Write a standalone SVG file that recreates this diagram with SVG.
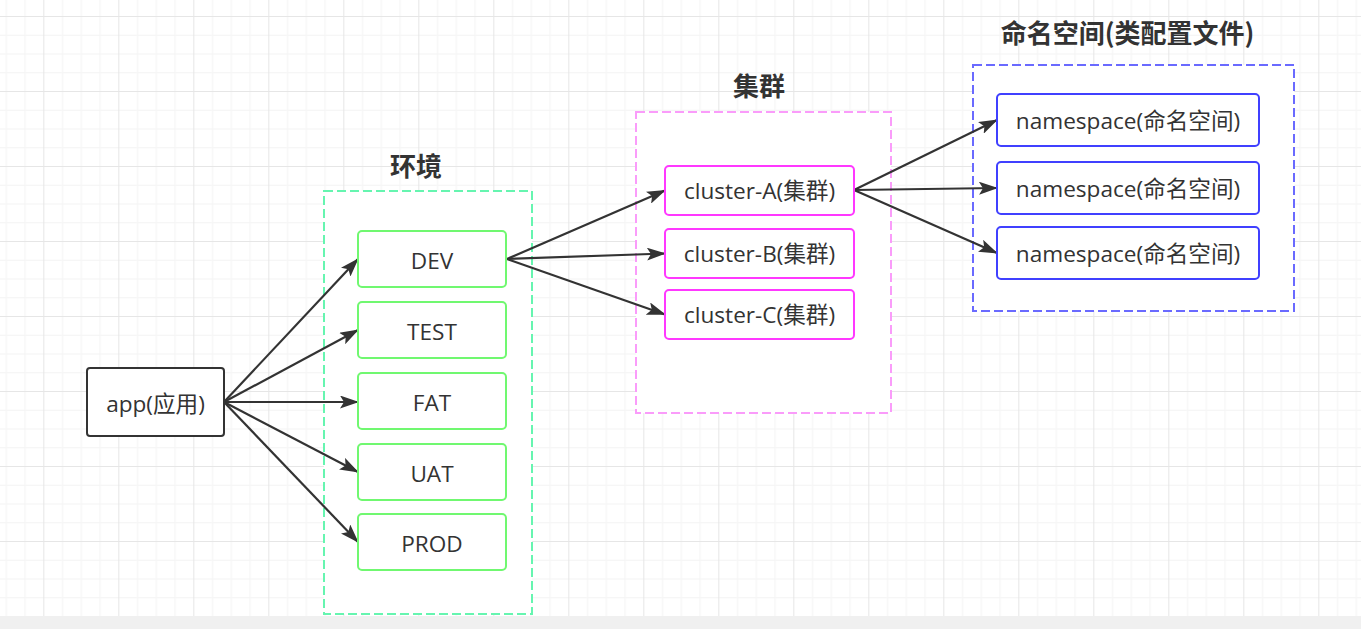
<svg xmlns="http://www.w3.org/2000/svg" width="1361" height="629" viewBox="0 0 1361 629">
  <defs>
    <pattern id="grid" x="43.33" y="16" width="75" height="75" patternUnits="userSpaceOnUse">
      <rect x="18.75" y="0" width="1" height="75" fill="#f4f4f4"/>
      <rect x="37.5" y="0" width="1" height="75" fill="#f4f4f4"/>
      <rect x="56.25" y="0" width="1" height="75" fill="#f4f4f4"/>
      <rect x="0" y="18.75" width="75" height="1" fill="#f4f4f4"/>
      <rect x="0" y="37.5" width="75" height="1" fill="#f4f4f4"/>
      <rect x="0" y="56.25" width="75" height="1" fill="#f4f4f4"/>
      <rect x="0" y="0" width="1" height="75" fill="#e6e6e6"/>
      <rect x="0" y="0" width="75" height="1" fill="#e6e6e6"/>
    </pattern>
    <marker id="arrow" viewBox="0 0 19 13" refX="18" refY="6.5" markerWidth="19" markerHeight="13" markerUnits="userSpaceOnUse" orient="auto">
      <path d="M0,0 L19,6.5 L0,13 L4,6.5 Z" fill="#333333"/>
    </marker>
    <style>
      .node rect { fill: #ffffff; stroke-width: 2; }
      .app rect { stroke: #333333; }
      .env rect { stroke: #70f870; }
      .cl rect { stroke: #ff38ff; }
      .ns rect { stroke: #4040ff; }
      .label { font-family: "Open Sans", "Noto Sans CJK SC", sans-serif; font-size: 22.6px; fill: #333333; text-anchor: middle; }
      .title { font-family: "Noto Sans CJK SC", sans-serif; font-size: 26px; font-weight: bold; fill: #333333; text-anchor: middle; }
      .group { fill: #ffffff; stroke-width: 2; stroke-dasharray: 9 4; }
      .edges line { stroke: #333333; stroke-width: 2.2; marker-end: url(#arrow); }
    </style>
  </defs>

  <rect x="0" y="0" width="1361" height="629" fill="#ffffff"/>
  <rect x="0" y="0" width="1361" height="616" fill="url(#grid)"/>
  <rect x="0" y="616" width="1361" height="13" fill="#f0f0f0"/>

  <g id="group-env">
    <rect class="group" x="324" y="191" width="208" height="423" stroke="#66f5b0"/>
    <text class="title" x="416" y="176">环境</text>
  </g>
  <g id="group-cluster">
    <rect class="group" x="636" y="112" width="255" height="301" stroke="#fa9cfa"/>
    <text class="title" x="759" y="96">集群</text>
  </g>
  <g id="group-ns">
    <rect class="group" x="973" y="65" width="321" height="246" stroke="#6a6aff"/>
    <text class="title" x="1127.5" y="43">命名空间(类配置文件)</text>
  </g>

  <g id="edges" class="edges">
    <line x1="224" y1="402" x2="358" y2="259"/>
    <line x1="224" y1="402" x2="358" y2="330"/>
    <line x1="224" y1="402" x2="358" y2="402"/>
    <line x1="224" y1="402" x2="358" y2="472"/>
    <line x1="224" y1="402" x2="358" y2="542"/>
    <line x1="507" y1="259" x2="665" y2="190.5"/>
    <line x1="507" y1="259" x2="665" y2="253.5"/>
    <line x1="507" y1="259" x2="665" y2="314.5"/>
    <line x1="854" y1="190" x2="997" y2="120"/>
    <line x1="854" y1="190" x2="997" y2="188"/>
    <line x1="854" y1="190" x2="997" y2="253"/>
  </g>

  <g id="node-app" class="node app">
    <rect x="87" y="368" width="137" height="68" rx="3"/>
    <text class="label" x="155.5" y="412">app(应用)</text>
  </g>

  <g id="node-dev" class="node env">
    <rect x="358" y="231" width="148" height="56" rx="4"/>
    <text class="label" x="432" y="269">DEV</text>
  </g>
  <g id="node-test" class="node env">
    <rect x="358" y="302" width="148" height="56" rx="4"/>
    <text class="label" x="432" y="340">TEST</text>
  </g>
  <g id="node-fat" class="node env">
    <rect x="358" y="373" width="148" height="56" rx="4"/>
    <text class="label" x="432" y="411">FAT</text>
  </g>
  <g id="node-uat" class="node env">
    <rect x="358" y="444" width="148" height="56" rx="4"/>
    <text class="label" x="432" y="482">UAT</text>
  </g>
  <g id="node-prod" class="node env">
    <rect x="358" y="514" width="148" height="56" rx="4"/>
    <text class="label" x="432" y="552">PROD</text>
  </g>

  <g id="node-cluster-a" class="node cl">
    <rect x="665" y="166" width="189" height="49" rx="4"/>
    <text class="label" x="759.5" y="199">cluster-A(集群)</text>
  </g>
  <g id="node-cluster-b" class="node cl">
    <rect x="665" y="229" width="189" height="49" rx="4"/>
    <text class="label" x="759.5" y="262">cluster-B(集群)</text>
  </g>
  <g id="node-cluster-c" class="node cl">
    <rect x="665" y="290" width="189" height="49" rx="4"/>
    <text class="label" x="759.5" y="323">cluster-C(集群)</text>
  </g>

  <g id="node-ns-1" class="node ns">
    <rect x="997" y="94" width="262" height="52" rx="4"/>
    <text class="label" x="1128" y="129">namespace(命名空间)</text>
  </g>
  <g id="node-ns-2" class="node ns">
    <rect x="997" y="162" width="262" height="52" rx="4"/>
    <text class="label" x="1128" y="197">namespace(命名空间)</text>
  </g>
  <g id="node-ns-3" class="node ns">
    <rect x="997" y="227" width="262" height="52" rx="4"/>
    <text class="label" x="1128" y="262">namespace(命名空间)</text>
  </g>
</svg>
